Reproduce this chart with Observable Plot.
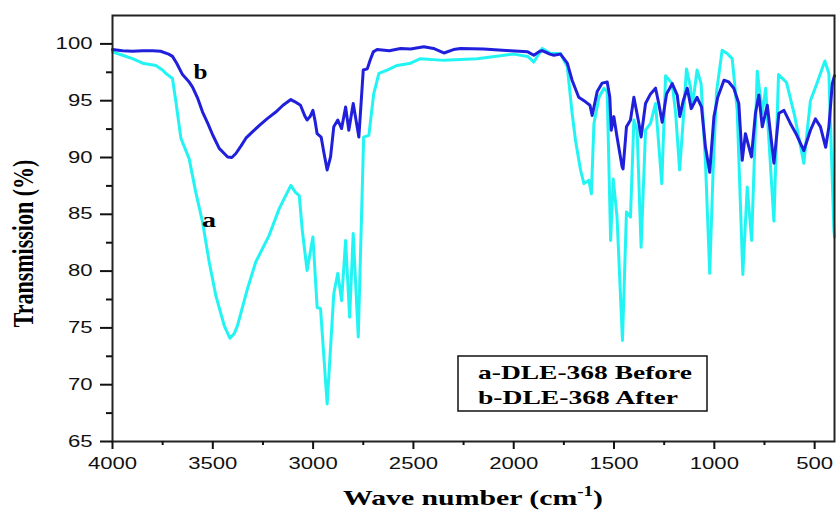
<!DOCTYPE html>
<html>
<head>
<meta charset="utf-8">
<script src="https://cdn.jsdelivr.net/npm/d3@7"></script>
<script src="https://cdn.jsdelivr.net/npm/@observablehq/plot@0.6"></script>
<style>
  html, body { margin: 0; padding: 0; background: #fff; }
</style>
</head>
<body>
<script>
// Curve a: DLE-368 Before (cyan)
const waveA = [4000,3950,3900,3850,3784,3751,3734,3701,3684,3659,3618,3585,3551,3518,3485,3443,3415,3393,3377,3327,3286,3219,3169,3111,3089,3069,3054,3030,3001,2980,2963,2930,2897,2877,2858,2838,2818,2800,2775,2748,2722,2698,2672,2631,2581,2514,2465,2348,2182,2000,1930,1900,1858,1816,1767,1733,1709,1692,1667,1650,1625,1613,1600,1575,1550,1534,1517,1504,1485,1458,1438,1418,1401,1385,1365,1343,1318,1293,1262,1243,1210,1193,1173,1155,1139,1119,1110,1086,1066,1044,1023,1006,989,961,936,911,886,858,836,814,786,761,744,703,680,640,600,554,521,487,449,429,404,401];
const transA = [99.3,99.0,98.7,98.3,98.1,97.7,97.4,96.95,94.9,91.7,89.9,86.95,84.3,80.8,77.85,75.2,74.1,74.5,75.2,78.45,80.8,83.15,85.5,87.55,86.95,86.65,83.6,80.05,83.0,76.8,76.7,68.3,78.0,79.8,77.4,82.7,75.95,83.3,74.2,91.8,91.95,95.6,97.4,97.7,98.1,98.3,98.7,98.55,98.7,99.1,98.9,98.4,99.6,99.15,99.15,98.0,93.9,91.5,88.9,87.7,88.0,86.8,93.0,95.3,96.1,95.8,82.7,88.1,84.75,73.9,85.2,84.75,93.3,92.4,82.1,92.4,93.0,94.75,87.7,97.2,96.5,93.9,88.9,93.3,97.8,96.2,94.45,97.7,96.5,89.5,79.8,88.9,95.8,99.45,99.15,98.7,94.15,79.7,87.4,82.7,97.6,93.9,96.1,84.4,97.3,96.6,93.7,89.5,95.0,96.6,98.5,97.4,83.6,83.0];

// Curve b: DLE-368 After (blue)
const waveB = [4000,3950,3900,3850,3800,3760,3720,3701,3680,3651,3620,3601,3575,3551,3525,3501,3468,3426,3405,3385,3360,3335,3300,3269,3230,3186,3150,3111,3090,3063,3040,3030,3015,3001,2990,2980,2960,2945,2930,2913,2897,2877,2858,2838,2822,2800,2772,2750,2730,2715,2700,2681,2620,2564,2514,2448,2400,2360,2348,2300,2265,2150,2016,1930,1900,1870,1858,1820,1800,1767,1733,1709,1676,1642,1620,1609,1584,1559,1534,1521,1514,1501,1485,1460,1455,1438,1418,1401,1376,1365,1343,1318,1293,1277,1260,1238,1210,1185,1172,1155,1135,1115,1086,1064,1044,1023,1002,983,952,928,903,878,861,845,815,795,778,761,736,703,678,653,621,590,554,521,496,471,445,429,412,401];
const transB = [99.5,99.4,99.35,99.4,99.4,99.35,99.1,98.9,98.3,97.3,96.7,96.2,95.2,94.0,93.0,92.0,90.8,90.05,90.0,90.35,91.0,91.7,92.3,92.8,93.4,94.0,94.6,95.1,94.9,94.6,93.6,93.3,93.6,94.15,93.2,92.1,91.8,90.3,88.9,90.05,92.7,93.3,92.55,94.45,92.4,94.75,91.8,97.7,97.8,98.6,99.3,99.5,99.4,99.6,99.55,99.75,99.6,99.3,99.2,99.5,99.6,99.55,99.4,99.3,99.0,99.35,99.4,99.1,99.0,99.1,98.3,96.8,95.3,94.9,94.6,93.7,95.8,96.55,96.65,95.3,92.4,93.6,91.8,89.2,89.0,92.7,93.3,95.3,93.0,91.8,94.75,95.6,96.1,94.75,93.1,95.6,96.5,95.5,93.6,95.0,96.1,94.3,95.3,94.45,90.9,88.7,93.6,95.3,96.8,96.65,96.1,94.75,89.75,92.1,90.05,93.9,95.5,92.7,94.6,89.5,93.9,94.15,93.0,92.0,90.6,92.4,93.4,92.7,90.9,92.7,96.5,97.2];

// Axis ticks
const xTicks = [4000,3500,3000,2500,2000,1500,1000,500];
const xMinor = [3750,3250,2750,2250,1750,1250,750];
const yTicks = [65,70,75,80,85,90,95,100];
const yMinor = [67.5,72.5,77.5,82.5,87.5,92.5,97.5];

// Curve labels
const labelText = ["b","a"];
const labelWave = [3561,3519];
const labelTrans = [96.9,83.85];

// Legend / titles
const legendLines = ["a-DLE-368 Before","b-DLE-368 After"];
const xTitle = "Wave number (cm";
const yTitle = "Transmission (%)";

const colorA = "#22f4f4";
const colorB = "#2020dc";

const dataA = waveA.map((w,i) => ({w, t: transA[i]}));
const dataB = waveB.map((w,i) => ({w, t: transB[i]}));
const labels = labelText.map((s,i) => ({s, w: labelWave[i], t: labelTrans[i]}));

const svgPlot = Plot.plot({
  width: 836,
  height: 511,
  marginLeft: 112,
  marginRight: 2,
  marginTop: 15,
  marginBottom: 70,
  style: {background: "#fff", color: "#111", fontFamily: "'Liberation Sans', Arial, sans-serif", fontSize: "16px"},
  x: {domain: [4000, 401]},
  y: {domain: [65, 102.5]},
  marks: [
    Plot.line(dataA, {x: "w", y: "t", stroke: colorA, strokeWidth: 3}),
    Plot.line(dataB, {x: "w", y: "t", stroke: colorB, strokeWidth: 3}),
    Plot.frame({stroke: "#222", strokeWidth: 2}),
    Plot.axisX(xTicks, {tickSize: 8, tickPadding: 8, tickFormat: "d", label: null, strokeWidth: 2, fontSize: 16}),
    Plot.axisX(xMinor, {tickSize: 4, text: null, label: null, strokeWidth: 2}),
    Plot.axisY(yTicks, {tickSize: 12, tickPadding: 8, tickFormat: "d", label: null, strokeWidth: 2, fontSize: 16}),
    Plot.axisY(yMinor, {tickSize: 6, text: null, label: null, strokeWidth: 2}),
    Plot.text(labels, {x: "w", y: "t", text: "s", lineAnchor: "bottom", fontSize: 21, fontWeight: "bold", fontFamily: "'Liberation Serif', 'Times New Roman', serif", fill: "#000"})
  ]
});
document.body.appendChild(svgPlot);

const svg = d3.select(svgPlot);
// Horizontal stretch of tick labels to mimic the reference
svg.selectAll('g[aria-label="x-axis tick label"] text, g[aria-label="y-axis tick label"] text').each(function() {
  const n = this.textContent.length;
  this.setAttribute("textLength", n * 12.3);
  this.setAttribute("lengthAdjust", "spacingAndGlyphs");
});
svg.selectAll('g[aria-label="text"] text').each(function() {
  this.setAttribute("textLength", 14);
  this.setAttribute("lengthAdjust", "spacingAndGlyphs");
});

const serif = "'Liberation Serif', 'Times New Roman', serif";
// Legend box
const lg = svg.append("g").attr("class", "legend").attr("text-anchor", "start");
lg.append("rect").attr("x", 458).attr("y", 356).attr("width", 249).attr("height", 55)
  .attr("fill", "#fff").attr("stroke", "#111").attr("stroke-width", 1.5);
const lens = [214, 200];
legendLines.forEach((s, i) => {
  lg.append("text").attr("x", 478).attr("y", 379 + i * 25)
    .attr("text-anchor", "start")
    .attr("font-family", serif).attr("font-weight", "bold").attr("font-size", 19)
    .attr("fill", "#000")
    .attr("textLength", lens[i]).attr("lengthAdjust", "spacingAndGlyphs")
    .text(s);
});

// X title with superscript
const xt = svg.append("text").attr("x", 343).attr("y", 505)
  .attr("text-anchor", "start")
  .attr("font-family", serif).attr("font-weight", "bold").attr("font-size", 22)
  .attr("fill", "#000")
  .attr("textLength", 260).attr("lengthAdjust", "spacingAndGlyphs");
xt.append("tspan").text(xTitle);
xt.append("tspan").attr("dy", -9).attr("font-size", 14).text("-1");
xt.append("tspan").attr("dy", 9).text(")");

// Y title, rotated
svg.append("text")
  .attr("transform", "translate(33,243.5) scale(1.35,1) rotate(-90)")
  .attr("text-anchor", "middle")
  .attr("font-family", serif).attr("font-weight", "bold").attr("font-size", 22)
  .attr("fill", "#000")
  .text(yTitle);
</script>
</body>
</html>
